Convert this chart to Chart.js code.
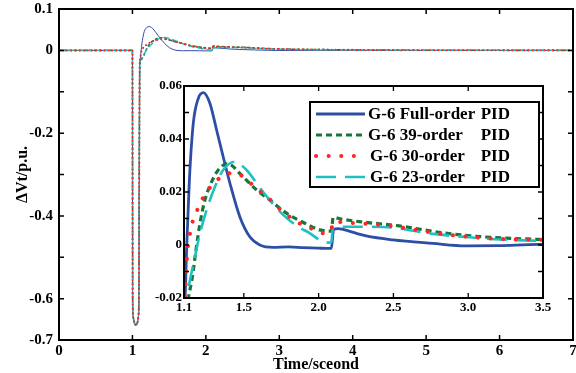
<!DOCTYPE html>
<html><head><meta charset="utf-8">
<script src="https://cdn.jsdelivr.net/npm/chart.js@4.4.0/dist/chart.umd.min.js"></script>
<style>
html,body{margin:0;padding:0;background:#fff;}
#wrap{position:relative;width:576px;height:373px;overflow:hidden;}
#main{position:absolute;left:0;top:0;}
#inset{position:absolute;left:140px;top:76px;}
</style></head><body>
<div id="wrap"><canvas id="main" width="576" height="373"></canvas><canvas id="inset" width="420" height="240"></canvas></div>
<script>
// ---- data ----
const seriesLabels = ['G-6 Full-order PID', 'G-6 39-order PID', 'G-6 30-order PID', 'G-6 23-order PID'];

const tFull = [0, 1.0, 1.003, 1.01, 1.03, 1.045, 1.065, 1.08, 1.088, 1.093, 1.1, 1.107, 1.118, 1.136, 1.162, 1.196, 1.229, 1.273, 1.318, 1.351, 1.407, 1.473, 1.54, 1.607, 1.695, 1.8, 1.9, 2.0, 2.085, 2.1, 2.13, 2.162, 2.318, 2.496, 2.762, 2.985, 3.207, 3.473, 4.0, 5.0, 7.0];
const vFull = [0, 0, -0.6, -0.645, -0.66, -0.664, -0.66, -0.645, -0.6, -0.3, -0.035, -0.0195, -0.0006, 0.0245, 0.0459, 0.0554, 0.0575, 0.0535, 0.0434, 0.0358, 0.0233, 0.0107, 0.0031, 0.0, -0.0009, -0.0007, -0.001, -0.0012, -0.0013, 0.0058, 0.0062, 0.0059, 0.0034, 0.0019, 0.0006, -0.0003, -0.0002, 0.0002, 0.0001, 0, 0];

const t39 = [0, 1.0, 1.003, 1.01, 1.03, 1.045, 1.065, 1.08, 1.088, 1.093, 1.1, 1.115, 1.129, 1.156, 1.18, 1.207, 1.24, 1.285, 1.329, 1.385, 1.42, 1.473, 1.585, 1.673, 1.785, 1.895, 2.007, 2.085, 2.097, 2.15, 2.273, 2.54, 2.829, 3.095, 3.473, 4.0, 5.0, 7.0];
const v39 = [0, 0, -0.6, -0.645, -0.66, -0.664, -0.66, -0.645, -0.6, -0.3, -0.036, -0.025, -0.02, -0.012, -0.0019, 0.0082, 0.017, 0.0239, 0.0283, 0.0306, 0.03, 0.027, 0.0208, 0.017, 0.012, 0.0086, 0.0057, 0.0052, 0.0104, 0.0098, 0.0088, 0.0072, 0.0046, 0.0031, 0.0021, 0.0012, 0.0004, 0];

const t30 = [0, 1.0, 1.003, 1.01, 1.03, 1.045, 1.065, 1.08, 1.088, 1.093, 1.1, 1.107, 1.113, 1.118, 1.124, 1.136, 1.151, 1.18, 1.213, 1.258, 1.313, 1.38, 1.425, 1.469, 1.596, 1.667, 1.729, 1.791, 1.865, 1.94, 2.018, 2.078, 2.1, 2.196, 2.44, 2.629, 2.873, 3.307, 3.5, 4.0, 5.0, 7.0];
const v30 = [0, 0, -0.6, -0.645, -0.66, -0.664, -0.66, -0.645, -0.6, -0.3, -0.026, -0.02, -0.0107, -0.0063, -0.0016, 0.0031, 0.0075, 0.012, 0.0163, 0.0205, 0.0241, 0.0267, 0.0272, 0.0267, 0.0208, 0.0176, 0.0141, 0.0113, 0.0084, 0.0065, 0.0044, 0.005, 0.0088, 0.0084, 0.0075, 0.0059, 0.0038, 0.0021, 0.002, 0.0012, 0.0004, 0];

const t23 = [0, 1.0, 1.003, 1.01, 1.03, 1.045, 1.065, 1.08, 1.088, 1.093, 1.1, 1.118, 1.14, 1.173, 1.207, 1.251, 1.307, 1.362, 1.44, 1.518, 1.618, 1.751, 1.862, 1.94, 2.007, 2.062, 2.085, 2.095, 2.207, 2.43, 2.762, 2.985, 3.207, 3.473, 4.0, 5.0, 7.0];
const v23 = [0, 0, -0.6, -0.645, -0.66, -0.664, -0.66, -0.645, -0.6, -0.3, -0.045, -0.0195, -0.0132, -0.0044, 0.0044, 0.0132, 0.022, 0.0283, 0.0314, 0.0283, 0.0208, 0.012, 0.0069, 0.0045, 0.0019, 0.0009, 0.001, 0.0063, 0.0069, 0.0068, 0.0042, 0.003, 0.0021, 0.0016, 0.001, 0.0003, 0];

// tick values / labels
const mainXTicks = [0, 1, 2, 3, 4, 5, 6, 7];
const mainXTickLabels = ['0', '1', '2', '3', '4', '5', '6', '7'];
const mainYTicks = [-0.7, -0.6, -0.4, -0.2, 0, 0.1];
const mainYTickLabels = ['-0.7', '-0.6', '-0.4', '-0.2', '0', '0.1'];
const mainYMarks = [-0.6, -0.5, -0.4, -0.3, -0.2, -0.1, 0];
const insetXTicks = [1.1, 1.5, 2.0, 2.5, 3.0, 3.5];
const insetXTickLabels = ['1.1', '1.5', '2.0', '2.5', '3.0', '3.5'];
const insetYTicks = [-0.02, 0, 0.02, 0.04, 0.06];
const insetYTickLabels = ['-0.02', '0', '0.02', '0.04', '0.06'];
const insetYMarks = [-0.01, 0, 0.01, 0.02, 0.03, 0.04, 0.05];

// ---- styles ----
const colors = ['#2c4fa5', '#16773a', '#ff2626', '#1fc0c4'];
const FONT = "'Liberation Serif', 'Times New Roman', serif";

function pts(t, v) { return t.map((x, i) => ({x: x, y: v[i]})); }
const seriesData = [pts(tFull, vFull), pts(t39, v39), pts(t30, v30), pts(t23, v23)];

const mainStyle = [
  {w: 1, dash: [], cap: 'butt', order: 4},
  {w: 1.6, dash: [3, 2], cap: 'butt', order: 3},
  {w: 2, dash: [0.1, 4], cap: 'round', order: 1},
  {w: 1.4, dash: [6, 3], cap: 'butt', order: 2}
];
const insetStyle = [
  {w: 2.8, dash: [], cap: 'butt', order: 4},
  {w: 3.2, dash: [6, 4], cap: 'butt', order: 3},
  {w: 4, dash: [0.1, 12.5], cap: 'round', order: 1},
  {w: 2.6, dash: [20, 9], cap: 'butt', order: 2}
];

function makeDatasets(styles) {
  return seriesData.map((d, i) => ({
    label: seriesLabels[i], data: d, borderColor: colors[i], backgroundColor: colors[i],
    borderWidth: styles[i].w, borderDash: styles[i].dash, borderCapStyle: styles[i].cap,
    pointRadius: 0, fill: false, order: styles[i].order, clip: 0,
    cubicInterpolationMode: 'monotone'
  }));
}

const framePlugin = {
  id: 'frame',
  beforeDraw(chart, args, o) {
    if (!o.fill) return;
    const c = chart.ctx, a = chart.chartArea;
    c.save(); c.fillStyle = '#fff'; c.fillRect(a.left, a.top, a.right - a.left, a.bottom - a.top); c.restore();
  },
  afterDraw(chart, args, o) {
    const c = chart.ctx, a = chart.chartArea, sx = chart.scales.x, sy = chart.scales.y;
    c.save();
    c.strokeStyle = '#000';
    c.lineWidth = o.tickWidth;
    c.beginPath();
    o.xMarks.forEach(v => {
      const p = sx.getPixelForValue(v);
      c.moveTo(p, a.bottom); c.lineTo(p, a.bottom - o.len);
      c.moveTo(p, a.top); c.lineTo(p, a.top + o.len);
    });
    o.yMarks.forEach(v => {
      const p = sy.getPixelForValue(v);
      c.moveTo(a.left, p); c.lineTo(a.left + o.len, p);
      c.moveTo(a.right, p); c.lineTo(a.right - o.len, p);
    });
    c.stroke();
    c.lineWidth = o.borderWidth;
    c.strokeRect(a.left, a.top, a.right - a.left, a.bottom - a.top);
    c.restore();
  }
};

const legendPlugin = {
  id: 'boxLegend',
  afterDraw(chart, args, o) {
    if (!o.show) return;
    const c = chart.ctx, a = chart.chartArea;
    const bl = a.left + 126, bt = a.top + 16, bw = (a.right - 4) - bl, bh = 85;
    c.save();
    c.fillStyle = '#fff';
    c.fillRect(bl, bt, bw, bh);
    c.strokeStyle = '#000'; c.lineWidth = 2;
    c.strokeRect(bl, bt, bw, bh);
    chart.data.datasets.forEach((ds, i) => {
      const y = bt + 12 + i * 21;
      c.beginPath();
      c.strokeStyle = ds.borderColor; c.lineWidth = ds.borderWidth;
      c.setLineDash(ds.borderDash); c.lineCap = ds.borderCapStyle;
      c.moveTo(bl + 6, y); c.lineTo(bl + 55, y); c.stroke();
      c.setLineDash([]); c.lineCap = 'butt';
      c.fillStyle = '#000';
      c.font = 'bold 17px ' + FONT;
      c.textBaseline = 'middle';
      const txt = ds.label; const k = txt.lastIndexOf(' ');
      c.textAlign = 'left';
      c.fillText(txt.slice(0, k), bl + 58 + (i >= 2 ? 2 : 0), y + 1);
      c.textAlign = 'right';
      c.fillText(txt.slice(k + 1), bl + 200, y + 1);
    });
    c.restore();
  }
};

const tickFont = size => ({family: FONT, size: size, weight: 'bold'});

function scaleX(min, max, vals, labels, h, fontSize, pad, title) {
  const s = {
    type: 'linear', min: min, max: max,
    grid: {display: false, drawTicks: false}, border: {display: false},
    afterBuildTicks: sc => { sc.ticks = vals.map(v => ({value: v})); },
    afterFit: sc => { sc.height = h; sc.paddingLeft = 0; sc.paddingRight = 0; },
    ticks: {autoSkip: false, maxRotation: 0, minRotation: 0, padding: pad, color: '#000', font: tickFont(fontSize),
      callback: (v, i) => labels[i]}
  };
  if (title) s.title = {display: true, text: title, color: '#000', font: {family: FONT, size: 16, weight: 'bold', lineHeight: 1}, padding: {top: 0, bottom: 0}};
  return s;
}
function scaleY(min, max, vals, labels, w, fontSize, pad, title) {
  const s = {
    type: 'linear', min: min, max: max,
    grid: {display: false, drawTicks: false}, border: {display: false},
    afterBuildTicks: sc => { sc.ticks = vals.map(v => ({value: v})); },
    afterFit: sc => { sc.width = w; sc.paddingTop = 0; sc.paddingBottom = 0; },
    ticks: {autoSkip: false, padding: pad, color: '#000', font: tickFont(fontSize),
      callback: (v, i) => labels[i]}
  };
  if (title) s.title = {display: true, text: title, color: '#000', font: {family: FONT, size: 16, weight: 'bold', lineHeight: 1}, padding: {top: 15, bottom: 0}};
  return s;
}

Chart.register(framePlugin, legendPlugin);

new Chart(document.getElementById('main'), {
  type: 'line',
  data: {datasets: makeDatasets(mainStyle)},
  options: {
    responsive: false, animation: false, devicePixelRatio: 1,
    layout: {padding: {left: 0, right: 3, top: 9, bottom: 0}},
    plugins: {
      legend: {display: false}, tooltip: {enabled: false},
      frame: {xMarks: mainXTicks, yMarks: mainYMarks, len: 5, tickWidth: 1.5, borderWidth: 2, fill: false},
      boxLegend: {show: false}
    },
    scales: {
      x: scaleX(0, 7, mainXTicks, mainXTickLabels, 33, 15, 2, 'Time/sceond'),
      y: scaleY(-0.7, 0.1, mainYTicks, mainYTickLabels, 59, 15, 6, 'ΔVt/p.u.')
    }
  }
});

new Chart(document.getElementById('inset'), {
  type: 'line',
  data: {datasets: makeDatasets(insetStyle)},
  options: {
    responsive: false, animation: false, devicePixelRatio: 1,
    layout: {padding: {left: 0, right: 17, top: 10, bottom: 0}},
    plugins: {
      legend: {display: false}, tooltip: {enabled: false},
      frame: {xMarks: insetXTicks, yMarks: insetYMarks, len: 5, tickWidth: 1.3, borderWidth: 2, fill: true},
      boxLegend: {show: true}
    },
    scales: {
      x: scaleX(1.1, 3.5, insetXTicks, insetXTickLabels, 18, 13, 2, null),
      y: scaleY(-0.02, 0.06, insetYTicks, insetYTickLabels, 44, 13, 2, null)
    }
  }
});
</script>
</body></html>
